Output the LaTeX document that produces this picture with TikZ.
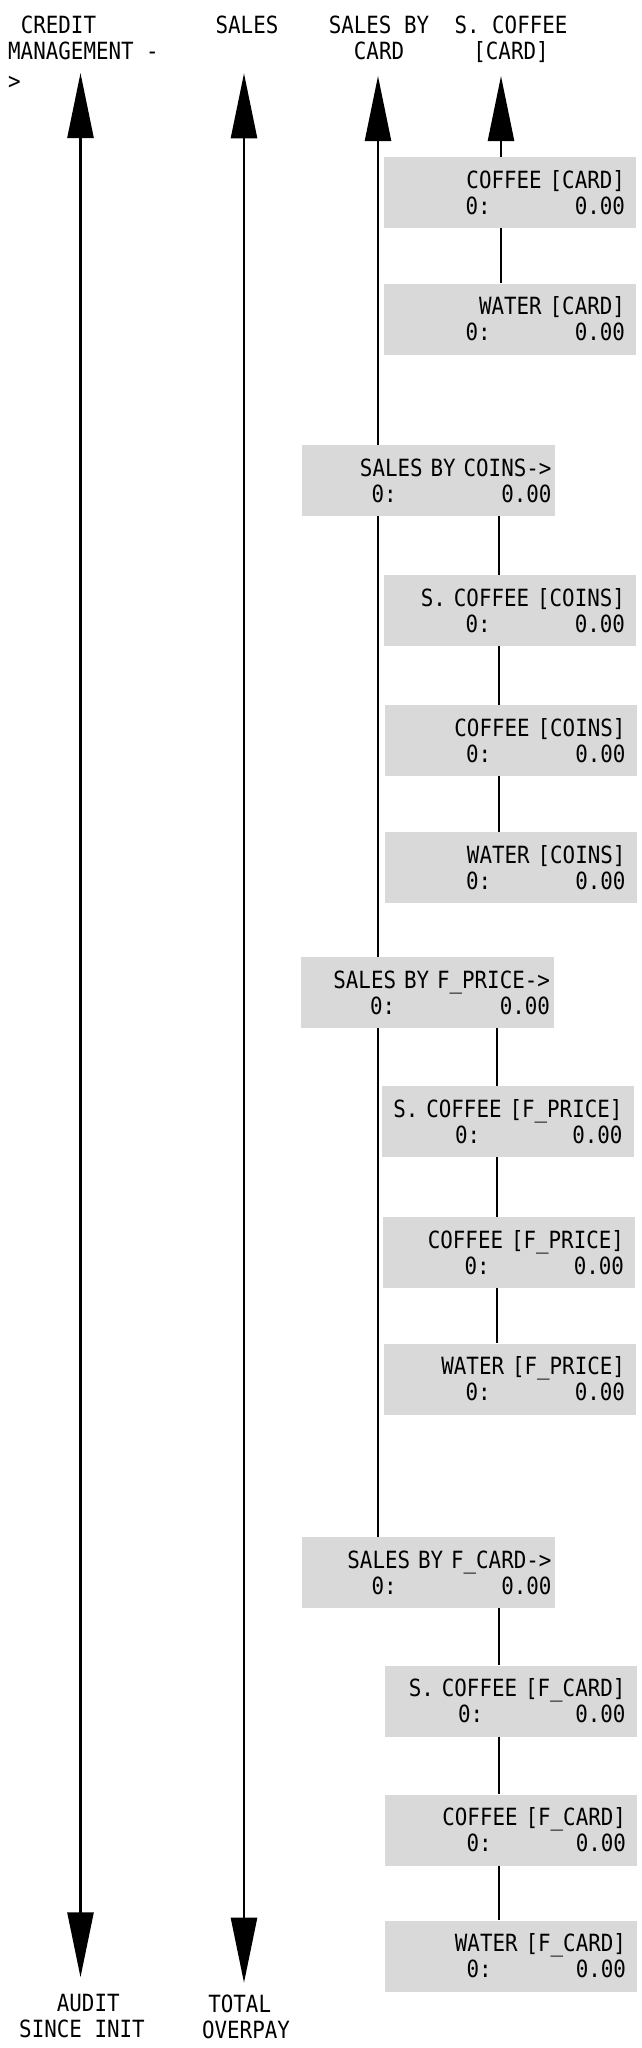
\documentclass[tikz,border=0pt]{standalone}
\usepackage{fontspec}
\usetikzlibrary{arrows.meta}
\newfontfamily\dvmono{DejaVu Sans Mono}[FakeStretch=0.88]
\definecolor{boxgray}{RGB}{217,217,217}
\newcommand\bxt[3]{#1\kern#3\\0:\hspace{#2}0.00\kern#3}
\begin{document}
\begin{tikzpicture}[x=1bp,y=-1bp,
  mono/.style={font={\dvmono\fontsize{23.69bp}{26bp}\selectfont}},
  lbl/.style={mono, inner sep=0pt},
  rbox/.style={mono, fill=boxgray, inner sep=0pt, text width=252bp, minimum height=71bp, align=right},
  lbox/.style={rbox, text width=253bp},
  link/.style={line width=2.5bp},
  arr/.style={link, -{Triangle[length=65bp,width=26bp]}},
  darr/.style={link, {Triangle[length=65bp,width=26bp]}-{Triangle[length=65bp,width=26bp]}}
]
\useasboundingbox (0,0) rectangle (642,2048);

% top labels
\node[lbl, align=left, anchor=north west] (credit) at (8,15.7) {\phantom{X}CREDIT\\MANAGEMENT -\\[3.8bp]>};
\node[lbl, anchor=base] (sales) at (247,33.3) {SALES};
\node[lbl, align=center, anchor=north] (sbc) at (379,15.7) {SALES BY\\CARD};
\node[lbl, align=center, anchor=north] (scc) at (511,15.7) {S. COFFEE\\{}[CARD]};

% bottom labels
\node[lbl, align=center, anchor=north] (audit) at (82,1994.4) {\phantom{X}AUDIT\\SINCE INIT};
\node[lbl, align=center, anchor=north] (overpay) at (246,1994.4) {TOTAL\phantom{X}\\OVERPAY};

% boxes
\node[rbox] (cc) at (510,192.5) {\bxt{COFFEE [CARD]}{84bp}{11bp}};
\node[rbox] (wc) at (510,319) {\bxt{WATER [CARD]}{84bp}{11bp}};
\node[lbox] (coins) at (428.5,480.5) {\bxt{SALES BY COINS->}{104.5bp}{3.5bp}};
\node[rbox] (scn) at (510,610.5) {\bxt{S. COFFEE [COINS]}{84bp}{11bp}};
\node[rbox] (cn) at (510.5,740.5) {\bxt{COFFEE [COINS]}{84bp}{11bp}};
\node[rbox] (wn) at (510.5,867.5) {\bxt{WATER [COINS]}{84bp}{11bp}};
\node[lbox] (fprice) at (427,992.5) {\bxt{SALES BY F\_PRICE->}{104.5bp}{3.5bp}};
\node[rbox] (scp) at (507.5,1121.5) {\bxt{S. COFFEE [F\_PRICE]}{92bp}{11bp}};
\node[rbox] (cp) at (509,1252.5) {\bxt{COFFEE [F\_PRICE]}{84bp}{11bp}};
\node[rbox] (wp) at (510,1379) {\bxt{WATER [F\_PRICE]}{84bp}{11bp}};
\node[lbox] (fcard) at (428.5,1572.5) {\bxt{SALES BY F\_CARD->}{104.5bp}{3.5bp}};
\node[rbox] (scf) at (510.5,1701) {\bxt{S. COFFEE [F\_CARD]}{92bp}{11bp}};
\node[rbox] (cf) at (511,1830) {\bxt{COFFEE [F\_CARD]}{84bp}{11bp}};
\node[rbox] (wf) at (511,1956) {\bxt{WATER [F\_CARD]}{84bp}{11bp}};

% arrow tips and columns
\coordinate (t1a) at (80.5,73);
\coordinate (t1b) at (80.5,1977.3);
\coordinate (t2a) at (244,73.3);
\coordinate (t2b) at (244,1982.7);
\coordinate (t3) at (378,76);
\coordinate (t4) at (501,76);
\coordinate (x1) at (499,0);
\coordinate (x2) at (497,0);

\draw[darr] (t1a) -- (t1b);
\draw[darr] (t2a) -- (t2b);

\draw[arr] (coins.north -| t3) -- (t3);
\draw[link] (coins.south -| t3) -- (fprice.north -| t3);
\draw[link] (fprice.south -| t3) -- (fcard.north -| t3);

\draw[arr] (cc.north -| t4) -- (t4);
\draw[link] (cc.south -| t4) -- (wc.north -| t4);

\draw[link] (coins.south -| x1) -- (scn.north -| x1);
\draw[link] (scn.south -| x1) -- (cn.north -| x1);
\draw[link] (cn.south -| x1) -- (wn.north -| x1);

\draw[link] (fprice.south -| x2) -- (scp.north -| x2);
\draw[link] (scp.south -| x2) -- (cp.north -| x2);
\draw[link] (cp.south -| x2) -- (wp.north -| x2);

\draw[link] (fcard.south -| x1) -- (scf.north -| x1);
\draw[link] (scf.south -| x1) -- (cf.north -| x1);
\draw[link] (cf.south -| x1) -- (wf.north -| x1);
\end{tikzpicture}
\end{document}
